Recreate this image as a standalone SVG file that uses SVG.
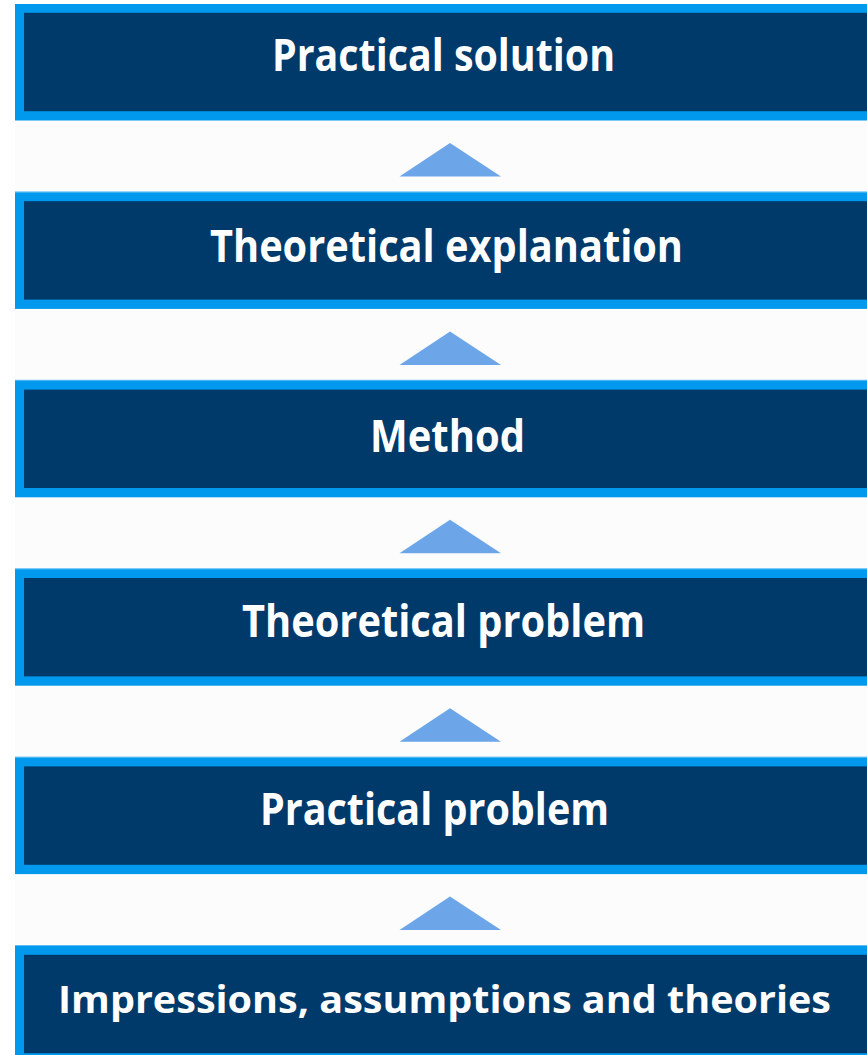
<svg xmlns="http://www.w3.org/2000/svg" width="867" height="1055" viewBox="0 0 867 1055">
<defs>
<style>
.band{fill:#0099EE}
.hl{fill:#5CBDF5}
.inner{fill:#003A6A}
.lbl{font-family:"Open Sans","Liberation Sans",sans-serif;font-weight:bold;fill:#FFFFFF;font-size:44px}
.tri{fill:#6CA6E8}
</style>
</defs>
<rect x="0" y="0" width="867" height="1055" fill="#FFFFFF"/>
<rect x="15" y="4" width="860" height="1060" fill="#FCFCFC"/>

<g id="connectors">
<polygon class="tri" points="450,143 399.5,176.5 501,176.5"/>
<polygon class="tri" points="450,331.4 399.5,364.9 501,364.9"/>
<polygon class="tri" points="450,519.8 399.5,553.3 501,553.3"/>
<polygon class="tri" points="450,708.2 399.5,741.7 501,741.7"/>
<polygon class="tri" points="450,896.6 399.5,930.1 501,930.1"/>
</g>

<g id="node-practical-solution">
<rect class="band" x="15" y="4" width="860" height="116.5"/>
<rect class="inner" x="24" y="12.8" width="860" height="98.4"/>
<text class="lbl" x="272" y="70.5" textLength="343" lengthAdjust="spacingAndGlyphs">Practical solution</text>
</g>

<g id="node-theoretical-explanation">
<rect class="hl" x="15" y="191.4" width="860" height="1.2"/>
<rect class="band" x="15" y="192.4" width="860" height="116.5"/>
<rect class="inner" x="24" y="201.2" width="860" height="98.4"/>
<text class="lbl" x="210" y="262" textLength="473" lengthAdjust="spacingAndGlyphs">Theoretical explanation</text>
</g>

<g id="node-method">
<rect class="hl" x="15" y="379.8" width="860" height="1.2"/>
<rect class="band" x="15" y="380.8" width="860" height="116.5"/>
<rect class="inner" x="24" y="389.6" width="860" height="98.4"/>
<text class="lbl" x="370" y="451.5" textLength="155" lengthAdjust="spacingAndGlyphs">Method</text>
</g>

<g id="node-theoretical-problem">
<rect class="hl" x="15" y="568.2" width="860" height="1.2"/>
<rect class="band" x="15" y="569.2" width="860" height="116.5"/>
<rect class="inner" x="24" y="578" width="860" height="98.4"/>
<text class="lbl" x="242" y="636.5" textLength="403" lengthAdjust="spacingAndGlyphs">Theoretical problem</text>
</g>

<g id="node-practical-problem">
<rect class="hl" x="15" y="756.6" width="860" height="1.2"/>
<rect class="band" x="15" y="757.6" width="860" height="116.5"/>
<rect class="inner" x="24" y="766.4" width="860" height="98.4"/>
<text class="lbl" x="260" y="825" textLength="349" lengthAdjust="spacingAndGlyphs">Practical problem</text>
</g>

<g id="node-impressions">
<rect class="hl" x="15" y="945" width="860" height="1.2"/>
<rect class="band" x="15" y="946" width="860" height="116.5"/>
<rect class="inner" x="24" y="954.8" width="860" height="98.4"/>
<text class="lbl" x="58" y="1013" style="font-size:38px" textLength="773" lengthAdjust="spacingAndGlyphs">Impressions, assumptions and theories</text>
</g>
</svg>
